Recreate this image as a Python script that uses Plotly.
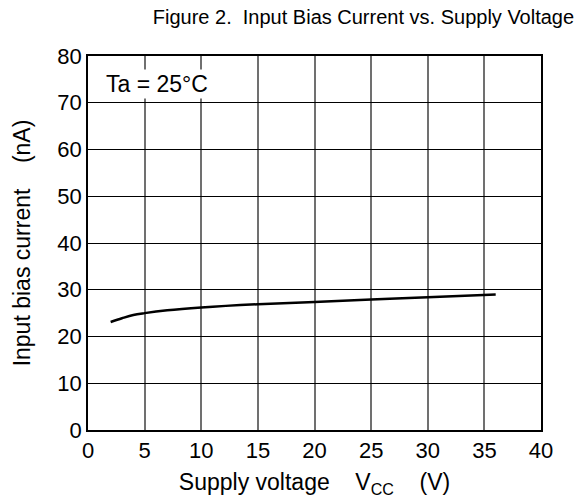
import plotly.graph_objects as go

voltage = [2, 3, 4, 5, 7, 10, 15, 20, 25, 30, 36]
bias_current = [23.1, 23.9, 24.6, 25.0, 25.6, 26.2, 26.9, 27.4, 27.9, 28.4, 29.0]
x_ticks = [0, 5, 10, 15, 20, 25, 30, 35, 40]
y_ticks = [0, 10, 20, 30, 40, 50, 60, 70, 80]

FONT = "Liberation Sans, Arial, sans-serif"

fig = go.Figure()
fig.add_trace(go.Scatter(x=voltage, y=bias_current, mode="lines",
                         line=dict(color="black", width=2.5, shape="spline"),
                         showlegend=False))

fig.update_layout(
    width=577, height=503,
    margin=dict(l=88, r=36, t=56, b=73, autoexpand=False),
    paper_bgcolor="white", plot_bgcolor="white",
    font=dict(family=FONT, size=22, color="black"),
    title=dict(text="Figure 2.  Input Bias Current vs. Supply Voltage",
               x=0.995, xanchor="right", y=0.966, yanchor="middle",
               font=dict(family=FONT, size=20, color="black")),
    xaxis=dict(range=[0, 40], tickvals=x_ticks, showgrid=True,
               gridcolor="#707070", gridwidth=1.5, showline=True, linecolor="black",
               linewidth=1.5, mirror=True, ticks="", zeroline=False, automargin=False,
               tickfont=dict(size=22),
               title=dict(text="Supply voltage    V<sub>CC</sub>    (V)", standoff=12,
                          font=dict(size=23))),
    yaxis=dict(range=[0, 80], tickvals=y_ticks, showgrid=True,
               gridcolor="black", gridwidth=1, showline=True, linecolor="black",
               linewidth=1.5, mirror=True, ticks="", zeroline=False, automargin=False,
               tickfont=dict(size=22),
               title=dict(text="Input bias current    (nA)", standoff=20,
                          font=dict(size=23))),
    annotations=[dict(text="Ta = 25°C", x=1.4, y=74.1, xref="x", yref="y",
                      xanchor="left", yanchor="middle", showarrow=False,
                      font=dict(size=23, color="black"), bgcolor="white")],
)

fig.write_html("out.html", config={"displayModeBar": False},
               post_script="document.body.style.margin='0';")
